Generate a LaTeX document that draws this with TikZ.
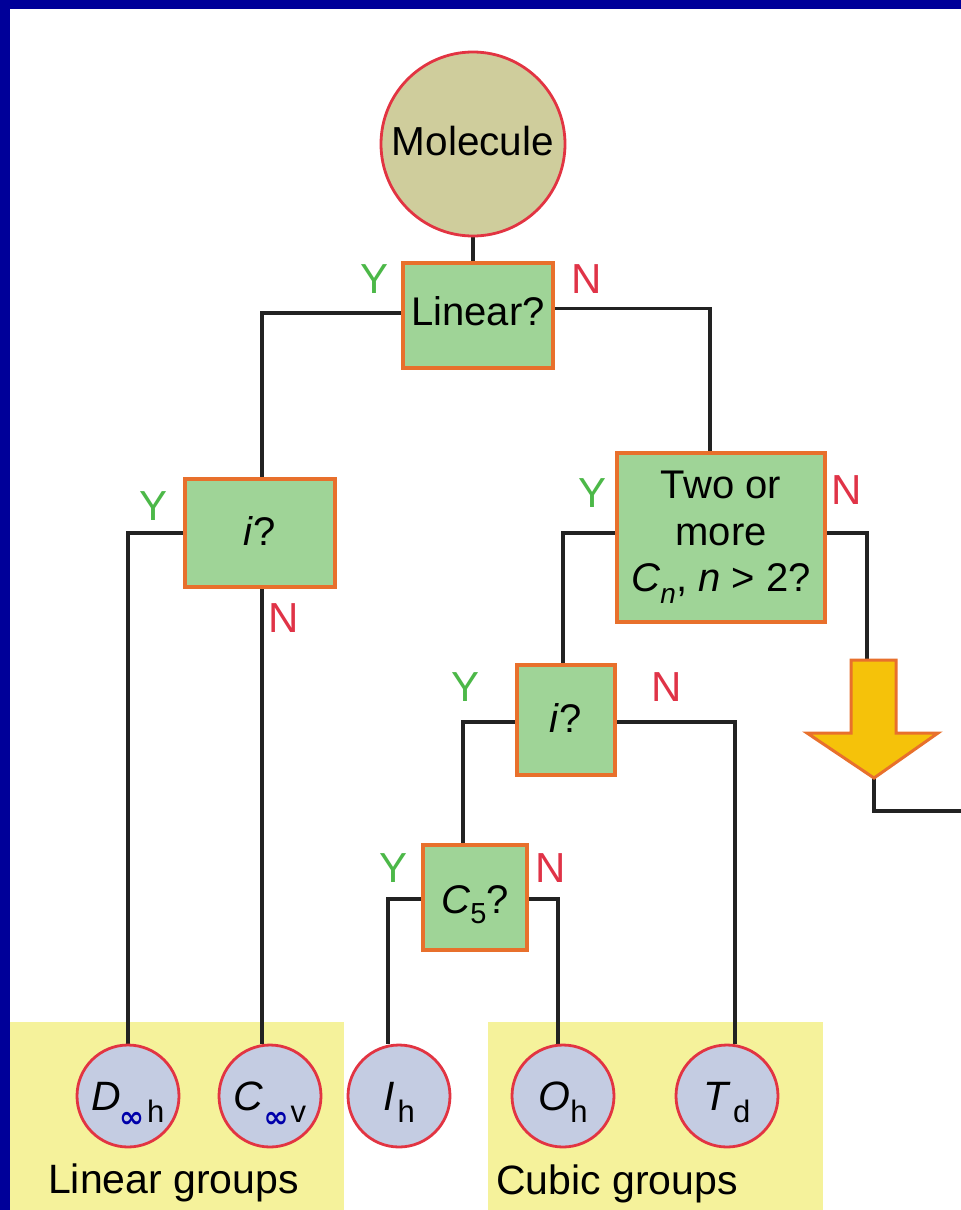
\documentclass[tikz,border=0pt]{standalone}
\usepackage{fontspec}
\setmainfont{Liberation Sans}
\newfontfamily\symfont{DejaVu Sans}
\usetikzlibrary{backgrounds}
\definecolor{frameblue}{RGB}{0,0,153}
\definecolor{molfill}{RGB}{207,205,156}
\definecolor{circred}{RGB}{226,52,66}
\definecolor{grpblue}{RGB}{196,204,226}
\definecolor{boxgreen}{RGB}{159,212,151}
\definecolor{boxorange}{RGB}{232,112,44}
\definecolor{panelyellow}{RGB}{245,242,155}
\definecolor{ygreen}{RGB}{76,184,72}
\definecolor{nred}{RGB}{224,51,71}
\definecolor{infblue}{RGB}{0,0,170}
\definecolor{arrowfill}{RGB}{245,194,10}
\definecolor{linegray}{RGB}{34,34,34}
\begin{document}
\begin{tikzpicture}[x=1pt,y=-1pt,
  qbox/.style={draw=boxorange, fill=boxgreen, line width=3.5pt, inner sep=0pt,
    font=\fontsize{40}{46.5}\selectfont, text depth=0pt},
  grp/.style={circle, draw=circred, fill=grpblue, line width=2.8pt, minimum size=102pt,
    inner sep=0pt, font=\fontsize{41}{41}\selectfont, text height=28pt, text depth=0pt},
  yes/.style={text=ygreen, font=\fontsize{42}{42}\selectfont, inner sep=0pt},
  no/.style={text=nred, font=\fontsize{42}{42}\selectfont, inner sep=0pt},
  conn/.style={draw=linegray, line width=3.2pt},
  grplabel/.style={anchor=base west, inner sep=0pt, font=\fontsize{41}{41}\selectfont}]
\useasboundingbox (0,0) rectangle (961,1210);

% question boxes and circles
\node[circle, draw=circred, fill=molfill, line width=2.8pt, minimum size=184pt, inner sep=0pt,
  font=\fontsize{40.5}{40.5}\selectfont, text height=22pt, text depth=0pt] (mol) at (473,144) {Molecule};
\node[qbox, minimum width=150pt, minimum height=105pt, text height=19pt] (lin) at (478,315.5) {Linear?};
\node[qbox, minimum width=150pt, minimum height=108pt, text height=24pt] (ia) at (260,533) {\textit{i}?};
\node[qbox, minimum width=208pt, minimum height=169pt, align=center, text height=, text depth=] (two) at (721,537.5)
  {Two or\\more\\\textit{C}\raisebox{-12pt}{\fontsize{28}{28}\selectfont\itshape n}, \textit{n} > 2?};
\node[qbox, minimum width=98pt, minimum height=110pt, text height=24pt] (ib) at (566,720) {\textit{i}?};
\node[qbox, minimum width=104pt, minimum height=105pt, text height=31pt] (cf) at (475,897.5)
  {\textit{C}\raisebox{-10pt}{\fontsize{29}{29}\selectfont 5}?};

\node[grp] (dh) at (128,1096) {\textit{D}\kern-2pt\raisebox{-17pt}{\symfont\bfseries\fontsize{30}{30}\selectfont\color{infblue}∞}\kern3pt\raisebox{-12pt}{\fontsize{31}{31}\selectfont h}};
\node[grp] (cv) at (270,1096) {\textit{C}\kern0pt\raisebox{-17pt}{\symfont\bfseries\fontsize{30}{30}\selectfont\color{infblue}∞}\kern2pt\raisebox{-12pt}{\fontsize{31}{31}\selectfont v}};
\node[grp] (ih) at (399,1096) {\textit{I}\kern3pt\raisebox{-12pt}{\fontsize{31}{31}\selectfont h}};
\node[grp] (oh) at (563,1096) {\textit{O}\raisebox{-12pt}{\fontsize{31}{31}\selectfont h}};
\node[grp] (td) at (727,1096) {\textit{T}\kern2pt\raisebox{-12pt}{\fontsize{31}{31}\selectfont d}};

% arrow
\coordinate (arrtop) at (867,660);
\coordinate (arrtip) at (874,778);
\coordinate (rightend) at (961,811);
\draw[draw=boxorange, fill=arrowfill, line width=3pt, line join=miter]
  (851,660) -- (896,660) -- (896,733) -- (938,733) -- (arrtip) -- (807,733) -- (851,733) -- cycle;

% Y / N labels
\node[yes] (y1) at (375,279) {Y};
\node[no]  (n1) at (587,279) {N};
\node[yes] (y2) at (154,506) {Y};
\node[no]  (n2) at (284,618) {N};
\node[yes] (y3) at (593,493) {Y};
\node[no]  (n3) at (847,490) {N};
\node[yes] (y4) at (466,687) {Y};
\node[no]  (n4) at (667,687) {N};
\node[yes] (y5) at (394,868) {Y};
\node[no]  (n5) at (551,868) {N};

% group labels
\node[grplabel] (lgl) at (48,1193) {Linear groups};
\node[grplabel] (cgl) at (496,1194) {Cubic groups};

\begin{scope}[on background layer]
  \fill[frameblue] (0,0) rectangle (961,1210);
  \fill[white] (10,9) rectangle (961,1210);
  \fill[panelyellow] (10,1022) rectangle (344,1210);
  \fill[panelyellow] (488,1022) rectangle (823,1210);
  \draw[conn] (mol.south) -- (mol.south |- lin.north);
  \draw[conn] ([yshift=2.5pt]lin.west) -| ([xshift=2pt]ia.north);
  \draw[conn] ([yshift=7pt]lin.east) -| ([xshift=-11pt]two.north);
  \draw[conn] (ia.west) -| (dh.north);
  \draw[conn] ([xshift=2pt]ia.south) -- ([xshift=2pt]ia.south |- cv.north);
  \draw[conn] ([yshift=4.5pt]two.west) -| ([xshift=-3pt]ib.north);
  \draw[conn] ([yshift=4.5pt]two.east) -| (arrtop);
  \draw[conn] (arrtip) |- (rightend);
  \draw[conn] ([yshift=-2pt]ib.west) -| ([xshift=-12pt]cf.north);
  \draw[conn] ([yshift=-2pt]ib.east) -| ([xshift=8pt]td.north);
  \draw[conn] ([yshift=-1.5pt]cf.west) -| ([xshift=-11pt]ih.north);
  \draw[conn] ([yshift=-1.5pt]cf.east) -| ([xshift=-5pt]oh.north);
\end{scope}
\end{tikzpicture}
\end{document}
